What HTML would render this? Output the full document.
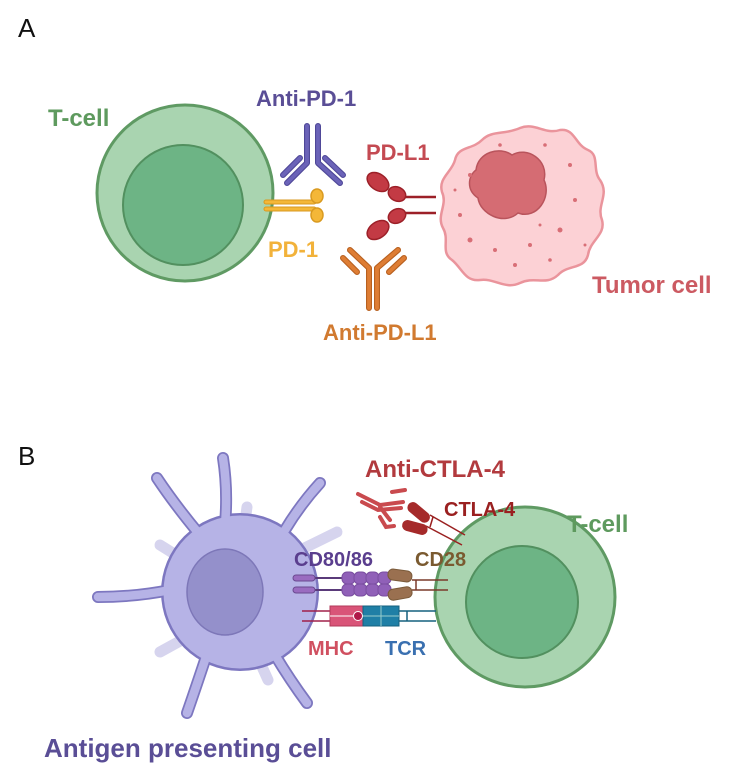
<!DOCTYPE html>
<html><head><meta charset="utf-8"><style>
html,body{margin:0;padding:0;background:#fff}
svg{display:block}
text{font-family:"Liberation Sans",Arial,sans-serif;font-weight:bold}
</style></head><body>
<svg width="742" height="769" viewBox="0 0 742 769" xmlns="http://www.w3.org/2000/svg">
<text x="18" y="37" font-size="26" style="font-weight:normal" fill="#111">A</text>
<text x="18" y="465" font-size="26" style="font-weight:normal" fill="#111">B</text>

<!-- A: T-cell -->
<circle cx="185" cy="193" r="88" fill="#a9d4b0" stroke="#5f9a63" stroke-width="3"/>
<circle cx="183" cy="205" r="60" fill="#6db485" stroke="#52905f" stroke-width="2"/>
<text x="48" y="126" font-size="24" fill="#5e9a5e">T-cell</text>

<!-- Anti-PD-1 -->
<text x="256" y="106" font-size="22" fill="#5a4e96">Anti-PD-1</text>
<g stroke="#4f4898" stroke-width="6" stroke-linecap="round" stroke-linejoin="round" fill="none">
<path d="M307,126 V163 L287,183"/><path d="M318,126 V163 L340,183"/>
<path d="M300,158 L283,175"/><path d="M325,158 L343,175"/>
</g>
<g stroke="#6b63b8" stroke-width="3.8" stroke-linecap="round" stroke-linejoin="round" fill="none">
<path d="M307,126 V163 L287,183"/><path d="M318,126 V163 L340,183"/>
<path d="M300,158 L283,175"/><path d="M325,158 L343,175"/>
</g>

<!-- PD-1 -->
<g stroke="#d99a20" stroke-width="5" stroke-linecap="round"><line x1="266" y1="202" x2="314" y2="202"/><line x1="266" y1="209" x2="314" y2="209"/></g>
<g stroke="#f4b738" stroke-width="3" stroke-linecap="round"><line x1="266" y1="202" x2="314" y2="202"/><line x1="266" y1="209" x2="314" y2="209"/></g>
<ellipse cx="317" cy="196" rx="6" ry="7" fill="#f4b738" stroke="#d99a20" stroke-width="1.5"/>
<ellipse cx="317" cy="215" rx="6" ry="7" fill="#f4b738" stroke="#d99a20" stroke-width="1.5"/>
<text x="268" y="257" font-size="22" fill="#f2b23a">PD-1</text>

<!-- PD-L1 -->
<text x="366" y="160" font-size="22" fill="#c44a52">PD-L1</text>
<g stroke="#9c2028" stroke-width="2.5"><line x1="402" y1="197" x2="436" y2="197"/><line x1="405" y1="213" x2="436" y2="213"/></g>
<g fill="#c33a44" stroke="#9c2028" stroke-width="1.5">
<ellipse cx="378" cy="182" rx="12" ry="8" transform="rotate(35 378 182)"/>
<ellipse cx="397" cy="194" rx="9" ry="7" transform="rotate(25 397 194)"/>
<ellipse cx="397" cy="216" rx="9" ry="7" transform="rotate(-25 397 216)"/>
<ellipse cx="378" cy="230" rx="12" ry="8" transform="rotate(-35 378 230)"/>
</g>

<!-- Anti-PD-L1 -->
<g stroke="#b8601f" stroke-width="6" stroke-linecap="round" stroke-linejoin="round" fill="none">
<path d="M369,308 V268 L350,250"/><path d="M377,308 V268 L398,250"/>
<path d="M357,272 L343,258"/><path d="M389,272 L404,258"/>
</g>
<g stroke="#de7d34" stroke-width="3.8" stroke-linecap="round" stroke-linejoin="round" fill="none">
<path d="M369,308 V268 L350,250"/><path d="M377,308 V268 L398,250"/>
<path d="M357,272 L343,258"/><path d="M389,272 L404,258"/>
</g>
<text x="323" y="340" font-size="22" fill="#d17a30">Anti-PD-L1</text>

<!-- Tumor -->
<path d="M520,128 C535,122 545,135 560,130 C575,128 575,145 588,150 C600,155 592,170 600,180 C610,195 596,205 602,220 C606,235 590,240 588,255 C584,270 568,264 558,275 C546,286 535,276 520,283 C505,290 495,278 480,280 C465,282 462,268 452,260 C440,252 450,240 443,228 C436,215 448,205 442,192 C438,178 452,172 455,160 C458,146 472,150 482,140 C492,130 505,135 520,128 Z" fill="#fcd1d5" stroke="#ea949c" stroke-width="2.5"/>
<path d="M476,170 C478,152 500,146 512,155 C527,146 549,160 544,180 C552,197 537,220 518,213 C504,226 480,214 478,198 C466,190 468,176 476,170 Z" fill="#d56c73" stroke="#b9545c" stroke-width="1.5"/>
<g fill="#d86e76">
<circle cx="460" cy="215" r="2"/><circle cx="470" cy="240" r="2.5"/><circle cx="495" cy="250" r="2"/><circle cx="530" cy="245" r="2"/><circle cx="560" cy="230" r="2.5"/><circle cx="575" cy="200" r="2"/><circle cx="570" cy="165" r="2"/><circle cx="545" cy="145" r="1.8"/><circle cx="500" cy="145" r="1.8"/><circle cx="470" cy="175" r="2"/><circle cx="515" cy="265" r="2"/><circle cx="550" cy="260" r="1.8"/><circle cx="585" cy="245" r="1.5"/><circle cx="455" cy="190" r="1.5"/><circle cx="540" cy="225" r="1.5"/>
</g>
<text x="592" y="293" font-size="24" fill="#cc5a62">Tumor cell</text>

<!-- B: faint spikes -->
<g stroke="#d6d4ee" stroke-width="11" stroke-linecap="round" fill="none">
<path d="M240,560 L247,507"/><path d="M280,560 L337,532"/><path d="M200,570 L160,545"/><path d="M200,630 L160,652"/><path d="M250,640 L268,680"/>
</g>
<!-- APC outline -->
<g stroke="#7d77c0" stroke-width="12" stroke-linecap="round" fill="none">
<path d="M200,535 Q175,505 157,478"/><path d="M225,525 Q228,490 223,458"/><path d="M285,530 Q300,505 320,483"/><path d="M170,590 Q135,597 98,597"/><path d="M205,660 Q195,690 187,713"/><path d="M275,655 Q290,680 307,703"/>
</g>
<circle cx="240" cy="592" r="79" fill="#7d77c0"/>
<g stroke="#b6b3e6" stroke-width="8.5" stroke-linecap="round" fill="none">
<path d="M200,535 Q175,505 157,478"/><path d="M225,525 Q228,490 223,458"/><path d="M285,530 Q300,505 320,483"/><path d="M170,590 Q135,597 98,597"/><path d="M205,660 Q195,690 187,713"/><path d="M275,655 Q290,680 307,703"/>
</g>
<circle cx="240" cy="592" r="76.5" fill="#b6b3e6"/>
<ellipse cx="225" cy="592" rx="38" ry="43" fill="#9490cb" stroke="#7d77b8" stroke-width="1.5"/>
<text x="44" y="757" font-size="26" fill="#5a4e96">Antigen presenting cell</text>

<!-- T-cell B -->
<circle cx="525" cy="597" r="90" fill="#a9d4b0" stroke="#5f9a63" stroke-width="3"/>
<circle cx="522" cy="602" r="56" fill="#6db485" stroke="#52905f" stroke-width="2"/>
<text x="567" y="532" font-size="24" fill="#5e9a5e">T-cell</text>

<!-- Anti-CTLA-4 -->
<text x="365" y="477" font-size="24" fill="#b23a3e">Anti-CTLA-4</text>
<g stroke="#c94a4e" stroke-width="4" stroke-linecap="round" fill="none">
<path d="M358,494 L380,505 L403,502"/><path d="M362,502 L378,510 L401,508"/><path d="M392,492 L405,490"/>
<path d="M380,507 L390,520"/><path d="M380,517 L386,527 L394,526"/>
</g>
<text x="444" y="516" font-size="20" fill="#9a2020">CTLA-4</text>
<g stroke="#9a2020" stroke-width="1.5"><line x1="430" y1="515" x2="465" y2="535"/><line x1="426" y1="526" x2="462" y2="545"/><line x1="433" y1="517" x2="430" y2="527"/></g>
<rect x="406" y="507" width="26" height="11" rx="5.5" fill="#a52a2a" transform="rotate(40 419 512)"/>
<rect x="402" y="522" width="26" height="11" rx="5.5" fill="#a52a2a" transform="rotate(15 415 527)"/>

<!-- CD80/86 -->
<text x="294" y="566" font-size="20" fill="#5a3e8e">CD80/86</text>
<g stroke="#5a3a7a" stroke-width="2"><line x1="300" y1="578" x2="350" y2="578"/><line x1="300" y1="590" x2="350" y2="590"/></g>
<rect x="293" y="575" width="22" height="6" rx="3" fill="#9a6cc0" stroke="#6a4a90"/>
<rect x="293" y="587" width="22" height="6" rx="3" fill="#9a6cc0" stroke="#6a4a90"/>
<g fill="#9060b8" stroke="#7a4ea0" stroke-width="1">
<rect x="342" y="572" width="13" height="12" rx="5"/><rect x="354" y="572" width="13" height="12" rx="5"/><rect x="366" y="572" width="13" height="12" rx="5"/><rect x="378" y="572" width="13" height="12" rx="5"/>
<rect x="342" y="584" width="13" height="12" rx="5"/><rect x="354" y="584" width="13" height="12" rx="5"/><rect x="366" y="584" width="13" height="12" rx="5"/><rect x="378" y="584" width="13" height="12" rx="5"/>
</g>
<!-- CD28 -->
<text x="415" y="566" font-size="20" fill="#7a5a30">CD28</text>
<g stroke="#7a3a2a" stroke-width="1.5"><line x1="412" y1="580" x2="448" y2="580"/><line x1="412" y1="590" x2="448" y2="590"/><line x1="416" y1="580" x2="416" y2="590"/></g>
<rect x="388" y="570" width="24" height="11" rx="5" fill="#9a7050" stroke="#7a5a3a" transform="rotate(8 400 575)"/>
<rect x="388" y="588" width="24" height="11" rx="5" fill="#9a7050" stroke="#7a5a3a" transform="rotate(-10 400 593)"/>

<!-- MHC / TCR -->
<g stroke="#a0204a" stroke-width="1.5"><line x1="302" y1="611" x2="335" y2="611"/><line x1="302" y1="621" x2="335" y2="621"/></g>
<rect x="330" y="606" width="34" height="20" fill="#d95478" stroke="#b23a5a"/>
<line x1="330" y1="616" x2="362" y2="616" stroke="#fff" stroke-width="1"/>
<rect x="363" y="606" width="36" height="20" fill="#1f7fa6" stroke="#15617f"/>
<line x1="363" y1="616" x2="399" y2="616" stroke="#9cc" stroke-width="1"/>
<line x1="381" y1="606" x2="381" y2="626" stroke="#9cc" stroke-width="1"/>
<circle cx="358" cy="616" r="4.5" fill="#b01848" stroke="#fff" stroke-width="1"/>
<g stroke="#15617f" stroke-width="1.5"><line x1="399" y1="611" x2="436" y2="611"/><line x1="399" y1="621" x2="436" y2="621"/><line x1="407" y1="611" x2="407" y2="621"/></g>
<text x="308" y="655" font-size="20" fill="#d05060">MHC</text>
<text x="385" y="655" font-size="20" fill="#3a70b0">TCR</text>
</svg>
</body></html>
